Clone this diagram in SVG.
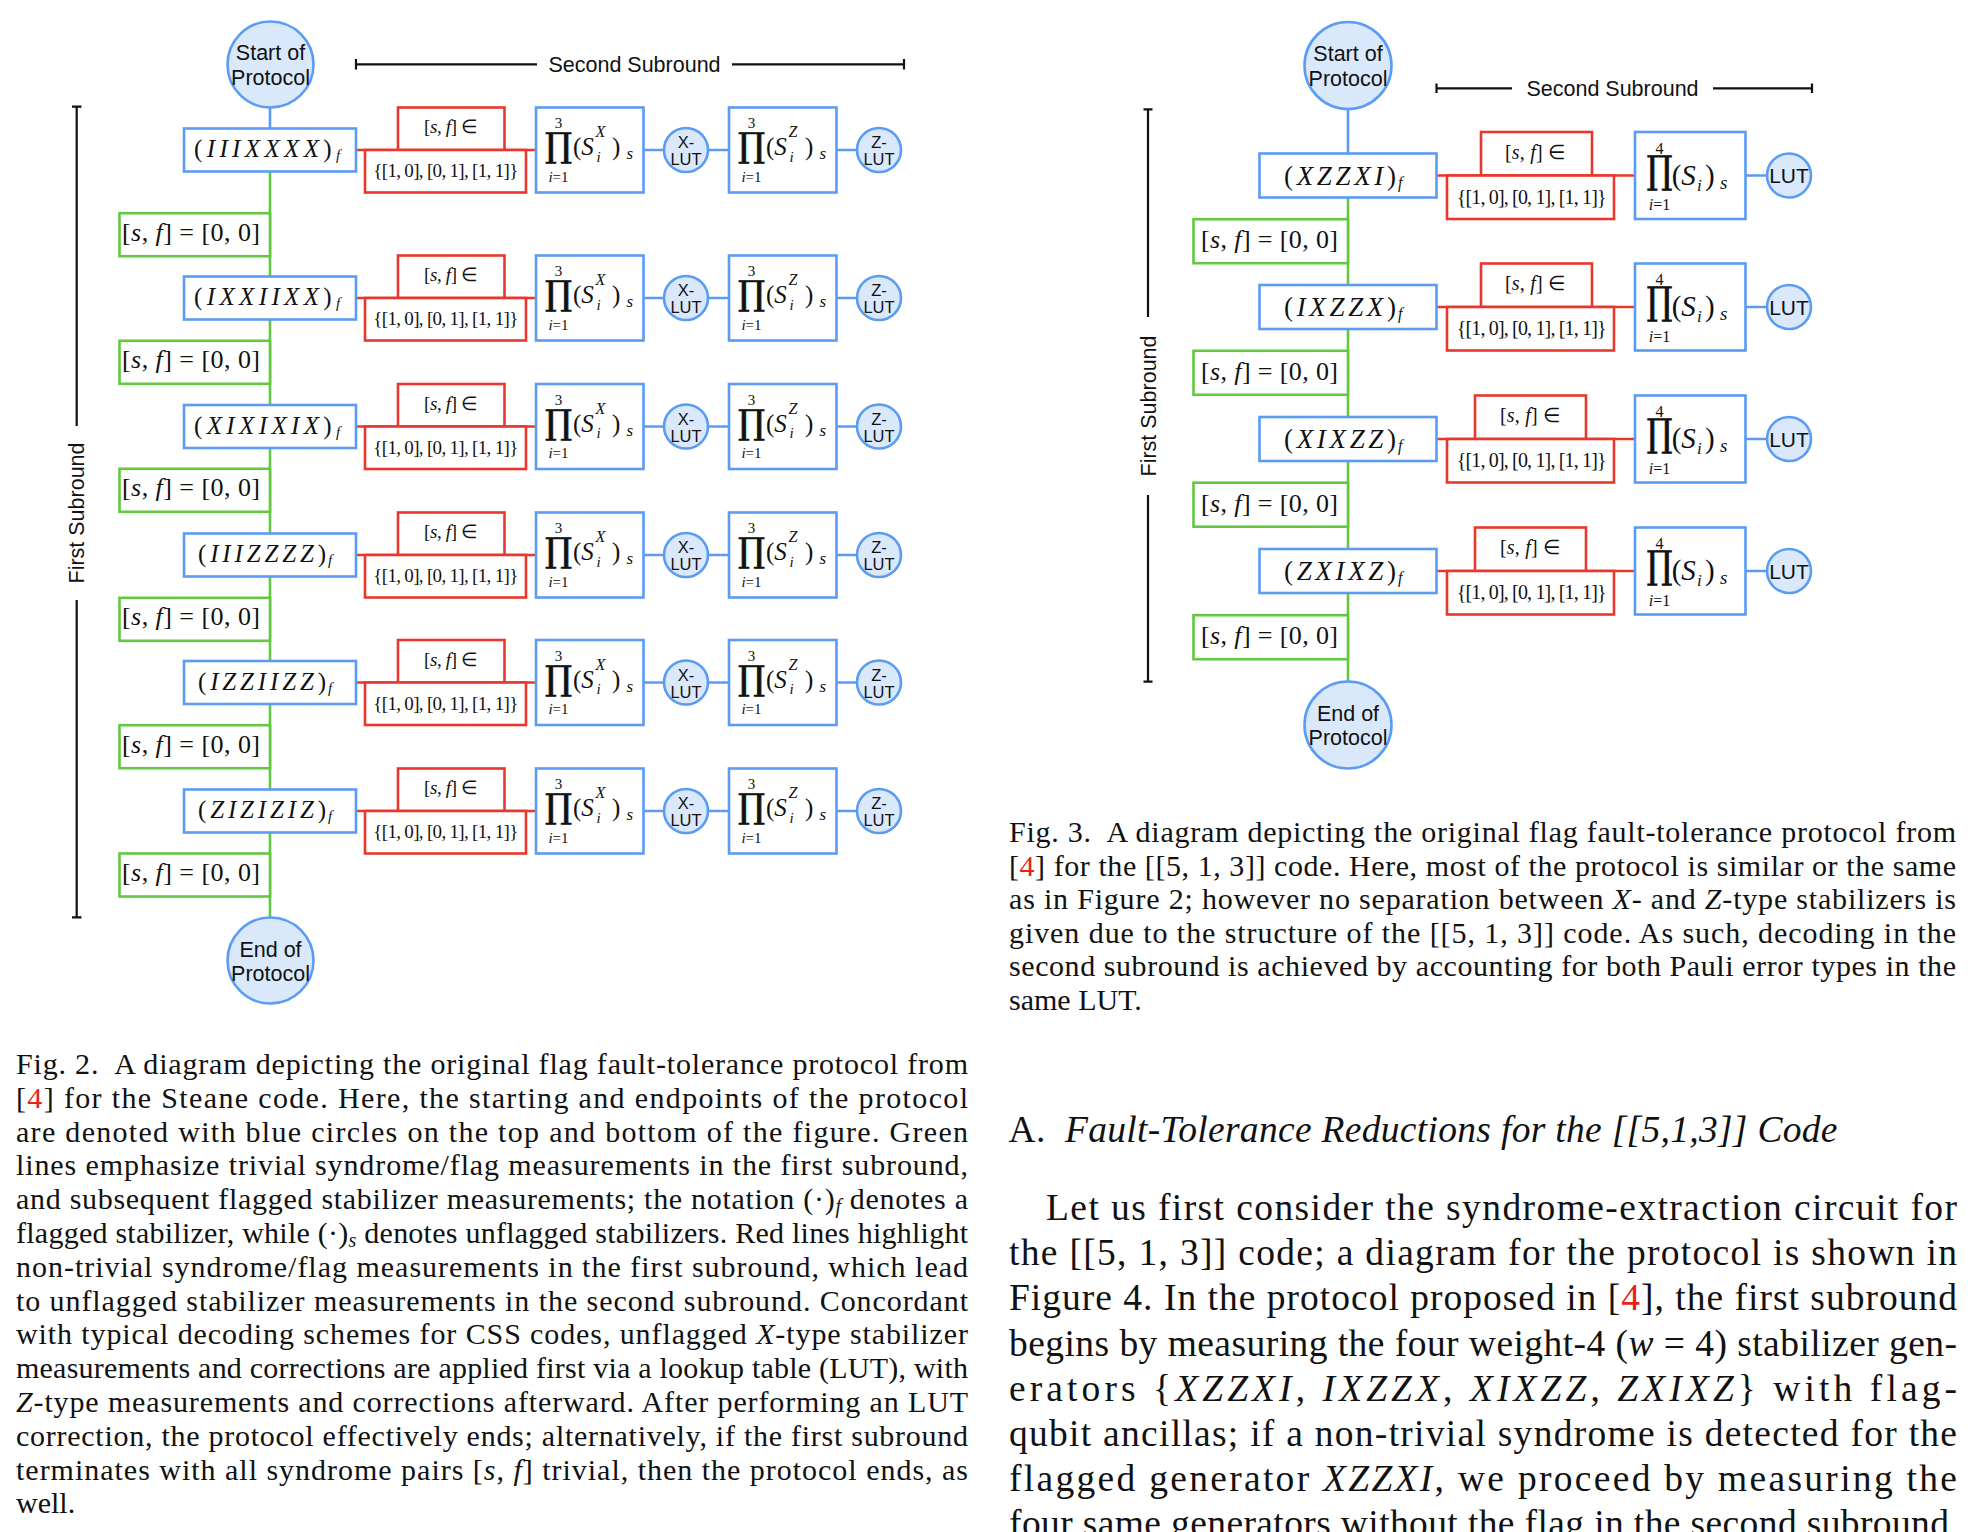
<svg xmlns="http://www.w3.org/2000/svg" width="1978" height="1532" viewBox="0 0 1978 1532">
<style>
.bb{fill:#fff;stroke:#5b9cf3;stroke-width:2.6}
.rb{fill:#fff;stroke:#e8382d;stroke-width:2.6}
.gb{fill:#fff;stroke:#63c83f;stroke-width:2.6}
.cc{fill:#dae8fc;stroke:#5b9cf3;stroke-width:2.6}
.eb{fill:none;stroke:#5b9cf3;stroke-width:2.6}
.er{fill:none;stroke:#e8382d;stroke-width:2.6}
.eg{fill:none;stroke:#63c83f;stroke-width:2.6}
.k{fill:none;stroke:#111;stroke-width:2.2}
text{fill:#111}
.sa{font-family:"Liberation Sans",Arial,sans-serif}
.se{font-family:"Liberation Serif","Times New Roman",serif}
.i{font-style:italic}
.n{font-style:normal}
.red{fill:#e8221b}
.mid{text-anchor:middle}
.cap{font-family:"Liberation Serif","Times New Roman",serif;font-size:30px}
.body{font-family:"Liberation Serif","Times New Roman",serif;font-size:37.5px}
.big{font-family:"DejaVu Serif","Liberation Serif",serif;stroke:#111;stroke-width:0.8}
</style>
<rect width="1978" height="1532" fill="#fff"/>

<g id="connectors">
<path class="eb" d="M270,107.5V128.5"/>
<path class="eg" d="M270,171.5V917.5"/>
<path class="er" d="M356,150H536M356,298H536M356,426.5H536M356,555H536M356,682.5H536M356,811H536"/>
<path class="eb" d="M643.5,150H664M708,150H729M836.5,150H857M643.5,298H664M708,298H729M836.5,298H857M643.5,426.5H664M708,426.5H729M836.5,426.5H857M643.5,555H664M708,555H729M836.5,555H857M643.5,682.5H664M708,682.5H729M836.5,682.5H857M643.5,811H664M708,811H729M836.5,811H857"/>
<path class="eb" d="M1348,109V153.5"/>
<path class="eg" d="M1348,197.5V681.5"/>
<path class="er" d="M1436.5,175.5H1635M1436.5,307H1635M1436.5,439H1635M1436.5,571H1635"/>
<path class="eb" d="M1745.5,175.5H1767M1745.5,307H1767M1745.5,439H1767M1745.5,571H1767"/>
</g>

<g id="brackets">
<path class="k" d="M356,64.3H537M732,64.3H904M356,59V69.5M904,59V69.5"/>
<text class="sa mid" font-size="21.5" x="634.5" y="71.8">Second Subround</text>
<path class="k" d="M76.7,106.7V426M76.7,600V917.3M72,106.7H81.5M72,917.3H81.5"/>
<text class="sa mid" font-size="21.5" transform="translate(76.7,513) rotate(-90)" y="7.5">First Subround</text>
<path class="k" d="M1436.5,88.3H1512M1713,88.3H1812M1436.5,83.5V93M1812,83.5V93"/>
<text class="sa mid" font-size="21.5" x="1612.5" y="95.8">Second Subround</text>
<path class="k" d="M1148,109.3V317M1148,495V681.7M1143.5,109.3H1152.5M1143.5,681.7H1152.5"/>
<text class="sa mid" font-size="21.5" transform="translate(1148,406) rotate(-90)" y="7.5">First Subround</text>
</g>

<!-- LEFT DIAGRAM -->
<g id="L-start"><circle class="cc" cx="270.5" cy="64.5" r="43"/><text class="sa mid" font-size="21.5" x="270.5" y="59.5">Start of</text><text class="sa mid" font-size="21.5" x="270.5" y="84.5">Protocol</text></g>
<g id="L-end"><circle class="cc" cx="270.5" cy="960.5" r="43"/><text class="sa mid" font-size="21.5" x="270.5" y="956.5">End of</text><text class="sa mid" font-size="21.5" x="270.5" y="980.5">Protocol</text></g>

<g id="L-stab1" transform="translate(0,150)"><rect class="bb" x="184" y="-21.5" width="172" height="43"/><text class="se i" font-size="25" x="194" y="7" textLength="137.7" lengthAdjust="spacing"><tspan class="n">(</tspan>IIIXXXX<tspan class="n">)</tspan></text><text class="se i" font-size="15" x="336" y="10">f</text></g>
<g id="L-stab2" transform="translate(0,298)"><rect class="bb" x="184" y="-21.5" width="172" height="43"/><text class="se i" font-size="25" x="194" y="7" textLength="137.7" lengthAdjust="spacing"><tspan class="n">(</tspan>IXXIIXX<tspan class="n">)</tspan></text><text class="se i" font-size="15" x="336" y="10">f</text></g>
<g id="L-stab3" transform="translate(0,426.5)"><rect class="bb" x="184" y="-21.5" width="172" height="43"/><text class="se i" font-size="25" x="194" y="7" textLength="137.7" lengthAdjust="spacing"><tspan class="n">(</tspan>XIXIXIX<tspan class="n">)</tspan></text><text class="se i" font-size="15" x="336" y="10">f</text></g>
<g id="L-stab4" transform="translate(0,555)"><rect class="bb" x="184" y="-21.5" width="172" height="43"/><text class="se i" font-size="25" x="198" y="7" textLength="128" lengthAdjust="spacing"><tspan class="n">(</tspan>IIIZZZZ<tspan class="n">)</tspan></text><text class="se i" font-size="15" x="328" y="10">f</text></g>
<g id="L-stab5" transform="translate(0,682.5)"><rect class="bb" x="184" y="-21.5" width="172" height="43"/><text class="se i" font-size="25" x="198" y="7" textLength="128" lengthAdjust="spacing"><tspan class="n">(</tspan>IZZIIZZ<tspan class="n">)</tspan></text><text class="se i" font-size="15" x="328" y="10">f</text></g>
<g id="L-stab6" transform="translate(0,811)"><rect class="bb" x="184" y="-21.5" width="172" height="43"/><text class="se i" font-size="25" x="198" y="7" textLength="128" lengthAdjust="spacing"><tspan class="n">(</tspan>ZIZIZIZ<tspan class="n">)</tspan></text><text class="se i" font-size="15" x="328" y="10">f</text></g>

<g id="L-green1" transform="translate(0,234.7)"><rect class="gb" x="119.5" y="-21.5" width="150.5" height="43"/><text class="se" font-size="26" x="122" y="6" textLength="138" lengthAdjust="spacing">[<tspan class="i">s</tspan>, <tspan class="i">f</tspan>] = [0, 0]</text></g>
<g id="L-green2" transform="translate(0,362.3)"><rect class="gb" x="119.5" y="-21.5" width="150.5" height="43"/><text class="se" font-size="26" x="122" y="6" textLength="138" lengthAdjust="spacing">[<tspan class="i">s</tspan>, <tspan class="i">f</tspan>] = [0, 0]</text></g>
<g id="L-green3" transform="translate(0,490.3)"><rect class="gb" x="119.5" y="-21.5" width="150.5" height="43"/><text class="se" font-size="26" x="122" y="6" textLength="138" lengthAdjust="spacing">[<tspan class="i">s</tspan>, <tspan class="i">f</tspan>] = [0, 0]</text></g>
<g id="L-green4" transform="translate(0,619.3)"><rect class="gb" x="119.5" y="-21.5" width="150.5" height="43"/><text class="se" font-size="26" x="122" y="6" textLength="138" lengthAdjust="spacing">[<tspan class="i">s</tspan>, <tspan class="i">f</tspan>] = [0, 0]</text></g>
<g id="L-green5" transform="translate(0,746.7)"><rect class="gb" x="119.5" y="-21.5" width="150.5" height="43"/><text class="se" font-size="26" x="122" y="6" textLength="138" lengthAdjust="spacing">[<tspan class="i">s</tspan>, <tspan class="i">f</tspan>] = [0, 0]</text></g>
<g id="L-green6" transform="translate(0,875)"><rect class="gb" x="119.5" y="-21.5" width="150.5" height="43"/><text class="se" font-size="26" x="122" y="6" textLength="138" lengthAdjust="spacing">[<tspan class="i">s</tspan>, <tspan class="i">f</tspan>] = [0, 0]</text></g>

<g id="L-red1" transform="translate(0,150)"><rect class="rb" x="398" y="-42.5" width="106.5" height="42.5"/><rect class="rb" x="365" y="0" width="161" height="42.5"/><text class="se" font-size="19" x="424" y="-17" textLength="54" lengthAdjust="spacing">[<tspan class="i">s</tspan>, <tspan class="i">f</tspan>] ∈</text><text class="se" font-size="19" x="373.3" y="27" textLength="145" lengthAdjust="spacing">{[1, 0], [0, 1], [1, 1]}</text></g>
<g id="L-red2" transform="translate(0,298)"><rect class="rb" x="398" y="-42.5" width="106.5" height="42.5"/><rect class="rb" x="365" y="0" width="161" height="42.5"/><text class="se" font-size="19" x="424" y="-17" textLength="54" lengthAdjust="spacing">[<tspan class="i">s</tspan>, <tspan class="i">f</tspan>] ∈</text><text class="se" font-size="19" x="373.3" y="27" textLength="145" lengthAdjust="spacing">{[1, 0], [0, 1], [1, 1]}</text></g>
<g id="L-red3" transform="translate(0,426.5)"><rect class="rb" x="398" y="-42.5" width="106.5" height="42.5"/><rect class="rb" x="365" y="0" width="161" height="42.5"/><text class="se" font-size="19" x="424" y="-17" textLength="54" lengthAdjust="spacing">[<tspan class="i">s</tspan>, <tspan class="i">f</tspan>] ∈</text><text class="se" font-size="19" x="373.3" y="27" textLength="145" lengthAdjust="spacing">{[1, 0], [0, 1], [1, 1]}</text></g>
<g id="L-red4" transform="translate(0,555)"><rect class="rb" x="398" y="-42.5" width="106.5" height="42.5"/><rect class="rb" x="365" y="0" width="161" height="42.5"/><text class="se" font-size="19" x="424" y="-17" textLength="54" lengthAdjust="spacing">[<tspan class="i">s</tspan>, <tspan class="i">f</tspan>] ∈</text><text class="se" font-size="19" x="373.3" y="27" textLength="145" lengthAdjust="spacing">{[1, 0], [0, 1], [1, 1]}</text></g>
<g id="L-red5" transform="translate(0,682.5)"><rect class="rb" x="398" y="-42.5" width="106.5" height="42.5"/><rect class="rb" x="365" y="0" width="161" height="42.5"/><text class="se" font-size="19" x="424" y="-17" textLength="54" lengthAdjust="spacing">[<tspan class="i">s</tspan>, <tspan class="i">f</tspan>] ∈</text><text class="se" font-size="19" x="373.3" y="27" textLength="145" lengthAdjust="spacing">{[1, 0], [0, 1], [1, 1]}</text></g>
<g id="L-red6" transform="translate(0,811)"><rect class="rb" x="398" y="-42.5" width="106.5" height="42.5"/><rect class="rb" x="365" y="0" width="161" height="42.5"/><text class="se" font-size="19" x="424" y="-17" textLength="54" lengthAdjust="spacing">[<tspan class="i">s</tspan>, <tspan class="i">f</tspan>] ∈</text><text class="se" font-size="19" x="373.3" y="27" textLength="145" lengthAdjust="spacing">{[1, 0], [0, 1], [1, 1]}</text></g>

<g id="L-px1" transform="translate(536,150)"><rect class="bb" x="0" y="-42.5" width="107.5" height="85"/><text class="se mid" font-size="15" x="22.5" y="-22">3</text><text class="big mid" font-size="34" x="22.5" y="7">∏</text><text class="se mid" font-size="15" x="22.5" y="31.5"><tspan class="i">i</tspan>=1</text><text class="se" font-size="25" x="37" y="5">(<tspan class="i">S</tspan></text><text class="se i" font-size="16" x="59.5" y="-13">X</text><text class="se i" font-size="15" x="60.5" y="11.5">i</text><text class="se" font-size="25" x="76" y="5">)</text><text class="se i" font-size="17" x="90.5" y="9">s</text></g>
<g id="L-px2" transform="translate(536,298)"><rect class="bb" x="0" y="-42.5" width="107.5" height="85"/><text class="se mid" font-size="15" x="22.5" y="-22">3</text><text class="big mid" font-size="34" x="22.5" y="7">∏</text><text class="se mid" font-size="15" x="22.5" y="31.5"><tspan class="i">i</tspan>=1</text><text class="se" font-size="25" x="37" y="5">(<tspan class="i">S</tspan></text><text class="se i" font-size="16" x="59.5" y="-13">X</text><text class="se i" font-size="15" x="60.5" y="11.5">i</text><text class="se" font-size="25" x="76" y="5">)</text><text class="se i" font-size="17" x="90.5" y="9">s</text></g>
<g id="L-px3" transform="translate(536,426.5)"><rect class="bb" x="0" y="-42.5" width="107.5" height="85"/><text class="se mid" font-size="15" x="22.5" y="-22">3</text><text class="big mid" font-size="34" x="22.5" y="7">∏</text><text class="se mid" font-size="15" x="22.5" y="31.5"><tspan class="i">i</tspan>=1</text><text class="se" font-size="25" x="37" y="5">(<tspan class="i">S</tspan></text><text class="se i" font-size="16" x="59.5" y="-13">X</text><text class="se i" font-size="15" x="60.5" y="11.5">i</text><text class="se" font-size="25" x="76" y="5">)</text><text class="se i" font-size="17" x="90.5" y="9">s</text></g>
<g id="L-px4" transform="translate(536,555)"><rect class="bb" x="0" y="-42.5" width="107.5" height="85"/><text class="se mid" font-size="15" x="22.5" y="-22">3</text><text class="big mid" font-size="34" x="22.5" y="7">∏</text><text class="se mid" font-size="15" x="22.5" y="31.5"><tspan class="i">i</tspan>=1</text><text class="se" font-size="25" x="37" y="5">(<tspan class="i">S</tspan></text><text class="se i" font-size="16" x="59.5" y="-13">X</text><text class="se i" font-size="15" x="60.5" y="11.5">i</text><text class="se" font-size="25" x="76" y="5">)</text><text class="se i" font-size="17" x="90.5" y="9">s</text></g>
<g id="L-px5" transform="translate(536,682.5)"><rect class="bb" x="0" y="-42.5" width="107.5" height="85"/><text class="se mid" font-size="15" x="22.5" y="-22">3</text><text class="big mid" font-size="34" x="22.5" y="7">∏</text><text class="se mid" font-size="15" x="22.5" y="31.5"><tspan class="i">i</tspan>=1</text><text class="se" font-size="25" x="37" y="5">(<tspan class="i">S</tspan></text><text class="se i" font-size="16" x="59.5" y="-13">X</text><text class="se i" font-size="15" x="60.5" y="11.5">i</text><text class="se" font-size="25" x="76" y="5">)</text><text class="se i" font-size="17" x="90.5" y="9">s</text></g>
<g id="L-px6" transform="translate(536,811)"><rect class="bb" x="0" y="-42.5" width="107.5" height="85"/><text class="se mid" font-size="15" x="22.5" y="-22">3</text><text class="big mid" font-size="34" x="22.5" y="7">∏</text><text class="se mid" font-size="15" x="22.5" y="31.5"><tspan class="i">i</tspan>=1</text><text class="se" font-size="25" x="37" y="5">(<tspan class="i">S</tspan></text><text class="se i" font-size="16" x="59.5" y="-13">X</text><text class="se i" font-size="15" x="60.5" y="11.5">i</text><text class="se" font-size="25" x="76" y="5">)</text><text class="se i" font-size="17" x="90.5" y="9">s</text></g>

<g id="L-xlut1" transform="translate(686,150)"><circle class="cc" r="22"/><text class="sa mid" font-size="16.5" y="-2">X-</text><text class="sa mid" font-size="16.5" y="15">LUT</text></g>
<g id="L-xlut2" transform="translate(686,298)"><circle class="cc" r="22"/><text class="sa mid" font-size="16.5" y="-2">X-</text><text class="sa mid" font-size="16.5" y="15">LUT</text></g>
<g id="L-xlut3" transform="translate(686,426.5)"><circle class="cc" r="22"/><text class="sa mid" font-size="16.5" y="-2">X-</text><text class="sa mid" font-size="16.5" y="15">LUT</text></g>
<g id="L-xlut4" transform="translate(686,555)"><circle class="cc" r="22"/><text class="sa mid" font-size="16.5" y="-2">X-</text><text class="sa mid" font-size="16.5" y="15">LUT</text></g>
<g id="L-xlut5" transform="translate(686,682.5)"><circle class="cc" r="22"/><text class="sa mid" font-size="16.5" y="-2">X-</text><text class="sa mid" font-size="16.5" y="15">LUT</text></g>
<g id="L-xlut6" transform="translate(686,811)"><circle class="cc" r="22"/><text class="sa mid" font-size="16.5" y="-2">X-</text><text class="sa mid" font-size="16.5" y="15">LUT</text></g>

<g id="L-pz1" transform="translate(729,150)"><rect class="bb" x="0" y="-42.5" width="107.5" height="85"/><text class="se mid" font-size="15" x="22.5" y="-22">3</text><text class="big mid" font-size="34" x="22.5" y="7">∏</text><text class="se mid" font-size="15" x="22.5" y="31.5"><tspan class="i">i</tspan>=1</text><text class="se" font-size="25" x="37" y="5">(<tspan class="i">S</tspan></text><text class="se i" font-size="16" x="59.5" y="-13">Z</text><text class="se i" font-size="15" x="60.5" y="11.5">i</text><text class="se" font-size="25" x="76" y="5">)</text><text class="se i" font-size="17" x="90.5" y="9">s</text></g>
<g id="L-pz2" transform="translate(729,298)"><rect class="bb" x="0" y="-42.5" width="107.5" height="85"/><text class="se mid" font-size="15" x="22.5" y="-22">3</text><text class="big mid" font-size="34" x="22.5" y="7">∏</text><text class="se mid" font-size="15" x="22.5" y="31.5"><tspan class="i">i</tspan>=1</text><text class="se" font-size="25" x="37" y="5">(<tspan class="i">S</tspan></text><text class="se i" font-size="16" x="59.5" y="-13">Z</text><text class="se i" font-size="15" x="60.5" y="11.5">i</text><text class="se" font-size="25" x="76" y="5">)</text><text class="se i" font-size="17" x="90.5" y="9">s</text></g>
<g id="L-pz3" transform="translate(729,426.5)"><rect class="bb" x="0" y="-42.5" width="107.5" height="85"/><text class="se mid" font-size="15" x="22.5" y="-22">3</text><text class="big mid" font-size="34" x="22.5" y="7">∏</text><text class="se mid" font-size="15" x="22.5" y="31.5"><tspan class="i">i</tspan>=1</text><text class="se" font-size="25" x="37" y="5">(<tspan class="i">S</tspan></text><text class="se i" font-size="16" x="59.5" y="-13">Z</text><text class="se i" font-size="15" x="60.5" y="11.5">i</text><text class="se" font-size="25" x="76" y="5">)</text><text class="se i" font-size="17" x="90.5" y="9">s</text></g>
<g id="L-pz4" transform="translate(729,555)"><rect class="bb" x="0" y="-42.5" width="107.5" height="85"/><text class="se mid" font-size="15" x="22.5" y="-22">3</text><text class="big mid" font-size="34" x="22.5" y="7">∏</text><text class="se mid" font-size="15" x="22.5" y="31.5"><tspan class="i">i</tspan>=1</text><text class="se" font-size="25" x="37" y="5">(<tspan class="i">S</tspan></text><text class="se i" font-size="16" x="59.5" y="-13">Z</text><text class="se i" font-size="15" x="60.5" y="11.5">i</text><text class="se" font-size="25" x="76" y="5">)</text><text class="se i" font-size="17" x="90.5" y="9">s</text></g>
<g id="L-pz5" transform="translate(729,682.5)"><rect class="bb" x="0" y="-42.5" width="107.5" height="85"/><text class="se mid" font-size="15" x="22.5" y="-22">3</text><text class="big mid" font-size="34" x="22.5" y="7">∏</text><text class="se mid" font-size="15" x="22.5" y="31.5"><tspan class="i">i</tspan>=1</text><text class="se" font-size="25" x="37" y="5">(<tspan class="i">S</tspan></text><text class="se i" font-size="16" x="59.5" y="-13">Z</text><text class="se i" font-size="15" x="60.5" y="11.5">i</text><text class="se" font-size="25" x="76" y="5">)</text><text class="se i" font-size="17" x="90.5" y="9">s</text></g>
<g id="L-pz6" transform="translate(729,811)"><rect class="bb" x="0" y="-42.5" width="107.5" height="85"/><text class="se mid" font-size="15" x="22.5" y="-22">3</text><text class="big mid" font-size="34" x="22.5" y="7">∏</text><text class="se mid" font-size="15" x="22.5" y="31.5"><tspan class="i">i</tspan>=1</text><text class="se" font-size="25" x="37" y="5">(<tspan class="i">S</tspan></text><text class="se i" font-size="16" x="59.5" y="-13">Z</text><text class="se i" font-size="15" x="60.5" y="11.5">i</text><text class="se" font-size="25" x="76" y="5">)</text><text class="se i" font-size="17" x="90.5" y="9">s</text></g>

<g id="L-zlut1" transform="translate(879,150)"><circle class="cc" r="22"/><text class="sa mid" font-size="16.5" y="-2">Z-</text><text class="sa mid" font-size="16.5" y="15">LUT</text></g>
<g id="L-zlut2" transform="translate(879,298)"><circle class="cc" r="22"/><text class="sa mid" font-size="16.5" y="-2">Z-</text><text class="sa mid" font-size="16.5" y="15">LUT</text></g>
<g id="L-zlut3" transform="translate(879,426.5)"><circle class="cc" r="22"/><text class="sa mid" font-size="16.5" y="-2">Z-</text><text class="sa mid" font-size="16.5" y="15">LUT</text></g>
<g id="L-zlut4" transform="translate(879,555)"><circle class="cc" r="22"/><text class="sa mid" font-size="16.5" y="-2">Z-</text><text class="sa mid" font-size="16.5" y="15">LUT</text></g>
<g id="L-zlut5" transform="translate(879,682.5)"><circle class="cc" r="22"/><text class="sa mid" font-size="16.5" y="-2">Z-</text><text class="sa mid" font-size="16.5" y="15">LUT</text></g>
<g id="L-zlut6" transform="translate(879,811)"><circle class="cc" r="22"/><text class="sa mid" font-size="16.5" y="-2">Z-</text><text class="sa mid" font-size="16.5" y="15">LUT</text></g>

<!-- RIGHT DIAGRAM -->
<g id="R-start"><circle class="cc" cx="1348" cy="65.5" r="43.5"/><text class="sa mid" font-size="21.5" x="1348" y="60.5">Start of</text><text class="sa mid" font-size="21.5" x="1348" y="85.5">Protocol</text></g>
<g id="R-end"><circle class="cc" cx="1348" cy="725" r="43.5"/><text class="sa mid" font-size="21.5" x="1348" y="721">End of</text><text class="sa mid" font-size="21.5" x="1348" y="745">Protocol</text></g>

<g id="R-stab1" transform="translate(0,175.5)"><rect class="bb" x="1259.5" y="-22" width="177" height="44"/><text class="se i" font-size="27" x="1284" y="9" textLength="112" lengthAdjust="spacing"><tspan class="n">(</tspan>XZZXI<tspan class="n">)</tspan></text><text class="se i" font-size="16" x="1398" y="12">f</text></g>
<g id="R-stab2" transform="translate(0,307)"><rect class="bb" x="1259.5" y="-22" width="177" height="44"/><text class="se i" font-size="27" x="1284" y="9" textLength="112" lengthAdjust="spacing"><tspan class="n">(</tspan>IXZZX<tspan class="n">)</tspan></text><text class="se i" font-size="16" x="1398" y="12">f</text></g>
<g id="R-stab3" transform="translate(0,439)"><rect class="bb" x="1259.5" y="-22" width="177" height="44"/><text class="se i" font-size="27" x="1284" y="9" textLength="112" lengthAdjust="spacing"><tspan class="n">(</tspan>XIXZZ<tspan class="n">)</tspan></text><text class="se i" font-size="16" x="1398" y="12">f</text></g>
<g id="R-stab4" transform="translate(0,571)"><rect class="bb" x="1259.5" y="-22" width="177" height="44"/><text class="se i" font-size="27" x="1284" y="9" textLength="112" lengthAdjust="spacing"><tspan class="n">(</tspan>ZXIXZ<tspan class="n">)</tspan></text><text class="se i" font-size="16" x="1398" y="12">f</text></g>

<g id="R-green1" transform="translate(0,241.2)"><rect class="gb" x="1193.5" y="-22" width="154.5" height="44"/><text class="se" font-size="26" x="1201" y="7" textLength="137" lengthAdjust="spacing">[<tspan class="i">s</tspan>, <tspan class="i">f</tspan>] = [0, 0]</text></g>
<g id="R-green2" transform="translate(0,372.8)"><rect class="gb" x="1193.5" y="-22" width="154.5" height="44"/><text class="se" font-size="26" x="1201" y="7" textLength="137" lengthAdjust="spacing">[<tspan class="i">s</tspan>, <tspan class="i">f</tspan>] = [0, 0]</text></g>
<g id="R-green3" transform="translate(0,504.7)"><rect class="gb" x="1193.5" y="-22" width="154.5" height="44"/><text class="se" font-size="26" x="1201" y="7" textLength="137" lengthAdjust="spacing">[<tspan class="i">s</tspan>, <tspan class="i">f</tspan>] = [0, 0]</text></g>
<g id="R-green4" transform="translate(0,637.2)"><rect class="gb" x="1193.5" y="-22" width="154.5" height="44"/><text class="se" font-size="26" x="1201" y="7" textLength="137" lengthAdjust="spacing">[<tspan class="i">s</tspan>, <tspan class="i">f</tspan>] = [0, 0]</text></g>

<g id="R-red1" transform="translate(0,175.5)"><rect class="rb" x="1481" y="-43.5" width="111" height="43.5"/><rect class="rb" x="1447" y="0" width="167" height="43.5"/><text class="se" font-size="20" x="1505" y="-17" textLength="60" lengthAdjust="spacing">[<tspan class="i">s</tspan>, <tspan class="i">f</tspan>] ∈</text><text class="se" font-size="20" x="1456.7" y="28" textLength="150" lengthAdjust="spacing">{[1, 0], [0, 1], [1, 1]}</text></g>
<g id="R-red2" transform="translate(0,307)"><rect class="rb" x="1481" y="-43.5" width="111" height="43.5"/><rect class="rb" x="1447" y="0" width="167" height="43.5"/><text class="se" font-size="20" x="1505" y="-17" textLength="60" lengthAdjust="spacing">[<tspan class="i">s</tspan>, <tspan class="i">f</tspan>] ∈</text><text class="se" font-size="20" x="1456.7" y="28" textLength="150" lengthAdjust="spacing">{[1, 0], [0, 1], [1, 1]}</text></g>
<g id="R-red3" transform="translate(0,439)"><rect class="rb" x="1475" y="-43.5" width="111" height="43.5"/><rect class="rb" x="1447" y="0" width="167" height="43.5"/><text class="se" font-size="20" x="1500" y="-17" textLength="60" lengthAdjust="spacing">[<tspan class="i">s</tspan>, <tspan class="i">f</tspan>] ∈</text><text class="se" font-size="20" x="1456.7" y="28" textLength="150" lengthAdjust="spacing">{[1, 0], [0, 1], [1, 1]}</text></g>
<g id="R-red4" transform="translate(0,571)"><rect class="rb" x="1475" y="-43.5" width="111" height="43.5"/><rect class="rb" x="1447" y="0" width="167" height="43.5"/><text class="se" font-size="20" x="1500" y="-17" textLength="60" lengthAdjust="spacing">[<tspan class="i">s</tspan>, <tspan class="i">f</tspan>] ∈</text><text class="se" font-size="20" x="1456.7" y="28" textLength="150" lengthAdjust="spacing">{[1, 0], [0, 1], [1, 1]}</text></g>

<g id="R-prod1" transform="translate(1635,175.5)"><rect class="bb" x="0" y="-43.5" width="110.5" height="87"/><text class="se mid" font-size="16" x="24.5" y="-22">4</text><text class="big mid" font-size="38" transform="translate(24.5,7) scale(0.85,1)">∏</text><text class="se mid" font-size="16" x="24.5" y="34.5"><tspan class="i">i</tspan>=1</text><text class="se" font-size="29" x="36.7" y="9">(<tspan class="i">S</tspan></text><text class="se i" font-size="17" x="62" y="15">i</text><text class="se" font-size="29" x="70" y="9">)</text><text class="se i" font-size="19" x="85" y="13">s</text></g>
<g id="R-prod2" transform="translate(1635,307)"><rect class="bb" x="0" y="-43.5" width="110.5" height="87"/><text class="se mid" font-size="16" x="24.5" y="-22">4</text><text class="big mid" font-size="38" transform="translate(24.5,7) scale(0.85,1)">∏</text><text class="se mid" font-size="16" x="24.5" y="34.5"><tspan class="i">i</tspan>=1</text><text class="se" font-size="29" x="36.7" y="9">(<tspan class="i">S</tspan></text><text class="se i" font-size="17" x="62" y="15">i</text><text class="se" font-size="29" x="70" y="9">)</text><text class="se i" font-size="19" x="85" y="13">s</text></g>
<g id="R-prod3" transform="translate(1635,439)"><rect class="bb" x="0" y="-43.5" width="110.5" height="87"/><text class="se mid" font-size="16" x="24.5" y="-22">4</text><text class="big mid" font-size="38" transform="translate(24.5,7) scale(0.85,1)">∏</text><text class="se mid" font-size="16" x="24.5" y="34.5"><tspan class="i">i</tspan>=1</text><text class="se" font-size="29" x="36.7" y="9">(<tspan class="i">S</tspan></text><text class="se i" font-size="17" x="62" y="15">i</text><text class="se" font-size="29" x="70" y="9">)</text><text class="se i" font-size="19" x="85" y="13">s</text></g>
<g id="R-prod4" transform="translate(1635,571)"><rect class="bb" x="0" y="-43.5" width="110.5" height="87"/><text class="se mid" font-size="16" x="24.5" y="-22">4</text><text class="big mid" font-size="38" transform="translate(24.5,7) scale(0.85,1)">∏</text><text class="se mid" font-size="16" x="24.5" y="34.5"><tspan class="i">i</tspan>=1</text><text class="se" font-size="29" x="36.7" y="9">(<tspan class="i">S</tspan></text><text class="se i" font-size="17" x="62" y="15">i</text><text class="se" font-size="29" x="70" y="9">)</text><text class="se i" font-size="19" x="85" y="13">s</text></g>

<g id="R-lut1" transform="translate(1789,175.5)"><circle class="cc" r="22"/><text class="sa mid" font-size="21" y="7.5">LUT</text></g>
<g id="R-lut2" transform="translate(1789,307)"><circle class="cc" r="22"/><text class="sa mid" font-size="21" y="7.5">LUT</text></g>
<g id="R-lut3" transform="translate(1789,439)"><circle class="cc" r="22"/><text class="sa mid" font-size="21" y="7.5">LUT</text></g>
<g id="R-lut4" transform="translate(1789,571)"><circle class="cc" r="22"/><text class="sa mid" font-size="21" y="7.5">LUT</text></g>

<!-- CAPTIONS -->
<g id="caption-fig2" class="cap">
<text x="16" y="1074" textLength="952" lengthAdjust="spacing">Fig. 2.&#160; A diagram depicting the original flag fault-tolerance protocol from</text>
<text x="16" y="1107.8" textLength="952" lengthAdjust="spacing">[<tspan class="red">4</tspan>] for the Steane code. Here, the starting and endpoints of the protocol</text>
<text x="16" y="1141.6" textLength="952" lengthAdjust="spacing">are denoted with blue circles on the top and bottom of the figure. Green</text>
<text x="16" y="1175.4" textLength="952" lengthAdjust="spacing">lines emphasize trivial syndrome/flag measurements in the first subround,</text>
<text x="16" y="1209.2" textLength="952" lengthAdjust="spacing">and subsequent flagged stabilizer measurements; the notation (·)<tspan class="i" font-size="20" dy="4">f</tspan><tspan dy="-4"> denotes a</tspan></text>
<text x="16" y="1243" textLength="952" lengthAdjust="spacing">flagged stabilizer, while (·)<tspan class="i" font-size="20" dy="4">s</tspan><tspan dy="-4"> denotes unflagged stabilizers. Red lines highlight</tspan></text>
<text x="16" y="1276.8" textLength="952" lengthAdjust="spacing">non-trivial syndrome/flag measurements in the first subround, which lead</text>
<text x="16" y="1310.6" textLength="952" lengthAdjust="spacing">to unflagged stabilizer measurements in the second subround. Concordant</text>
<text x="16" y="1344.4" textLength="952" lengthAdjust="spacing">with typical decoding schemes for CSS codes, unflagged <tspan class="i">X</tspan>-type stabilizer</text>
<text x="16" y="1378.2" textLength="952" lengthAdjust="spacing">measurements and corrections are applied first via a lookup table (LUT), with</text>
<text x="16" y="1412" textLength="952" lengthAdjust="spacing"><tspan class="i">Z</tspan>-type measurements and corrections afterward. After performing an LUT</text>
<text x="16" y="1445.8" textLength="952" lengthAdjust="spacing">correction, the protocol effectively ends; alternatively, if the first subround</text>
<text x="16" y="1479.6" textLength="952" lengthAdjust="spacing">terminates with all syndrome pairs [<tspan class="i">s</tspan>, <tspan class="i">f</tspan>] trivial, then the protocol ends, as</text>
<text x="16" y="1513.4">well.</text>
</g>

<g id="caption-fig3" class="cap">
<text x="1009" y="842" textLength="947" lengthAdjust="spacing">Fig. 3.&#160; A diagram depicting the original flag fault-tolerance protocol from</text>
<text x="1009" y="875.6" textLength="947" lengthAdjust="spacing">[<tspan class="red">4</tspan>] for the [[5, 1, 3]] code. Here, most of the protocol is similar or the same</text>
<text x="1009" y="909.2" textLength="947" lengthAdjust="spacing">as in Figure 2; however no separation between <tspan class="i">X</tspan>- and <tspan class="i">Z</tspan>-type stabilizers is</text>
<text x="1009" y="942.8" textLength="947" lengthAdjust="spacing">given due to the structure of the [[5, 1, 3]] code. As such, decoding in the</text>
<text x="1009" y="976.4" textLength="947" lengthAdjust="spacing">second subround is achieved by accounting for both Pauli error types in the</text>
<text x="1009" y="1010">same LUT.</text>
</g>

<g id="section-heading">
<text class="body" x="1008.5" y="1142" textLength="829" lengthAdjust="spacing">A.&#160; <tspan class="i">Fault-Tolerance Reductions for the [[5,1,3]] Code</tspan></text>
</g>

<g id="body-text" class="body">
<text x="1046" y="1220" textLength="911" lengthAdjust="spacing">Let us first consider the syndrome-extraction circuit for</text>
<text x="1009" y="1265.2" textLength="948" lengthAdjust="spacing">the [[5, 1, 3]] code; a diagram for the protocol is shown in</text>
<text x="1009" y="1310.4" textLength="948" lengthAdjust="spacing">Figure 4. In the protocol proposed in [<tspan class="red">4</tspan>], the first subround</text>
<text x="1009" y="1355.6" textLength="948" lengthAdjust="spacing">begins by measuring the four weight-4 (<tspan class="i">w</tspan> = 4) stabilizer gen-</text>
<text x="1009" y="1400.8" textLength="948" lengthAdjust="spacing">erators {<tspan class="i">XZZXI</tspan>, <tspan class="i">IXZZX</tspan>, <tspan class="i">XIXZZ</tspan>, <tspan class="i">ZXIXZ</tspan>} with flag-</text>
<text x="1009" y="1446" textLength="948" lengthAdjust="spacing">qubit ancillas; if a non-trivial syndrome is detected for the</text>
<text x="1009" y="1491.2" textLength="948" lengthAdjust="spacing">flagged generator <tspan class="i">XZZXI</tspan>, we proceed by measuring the</text>
<text x="1009" y="1536.4" textLength="940" lengthAdjust="spacing">four same generators without the flag in the second subround</text>
</g>
</svg>
